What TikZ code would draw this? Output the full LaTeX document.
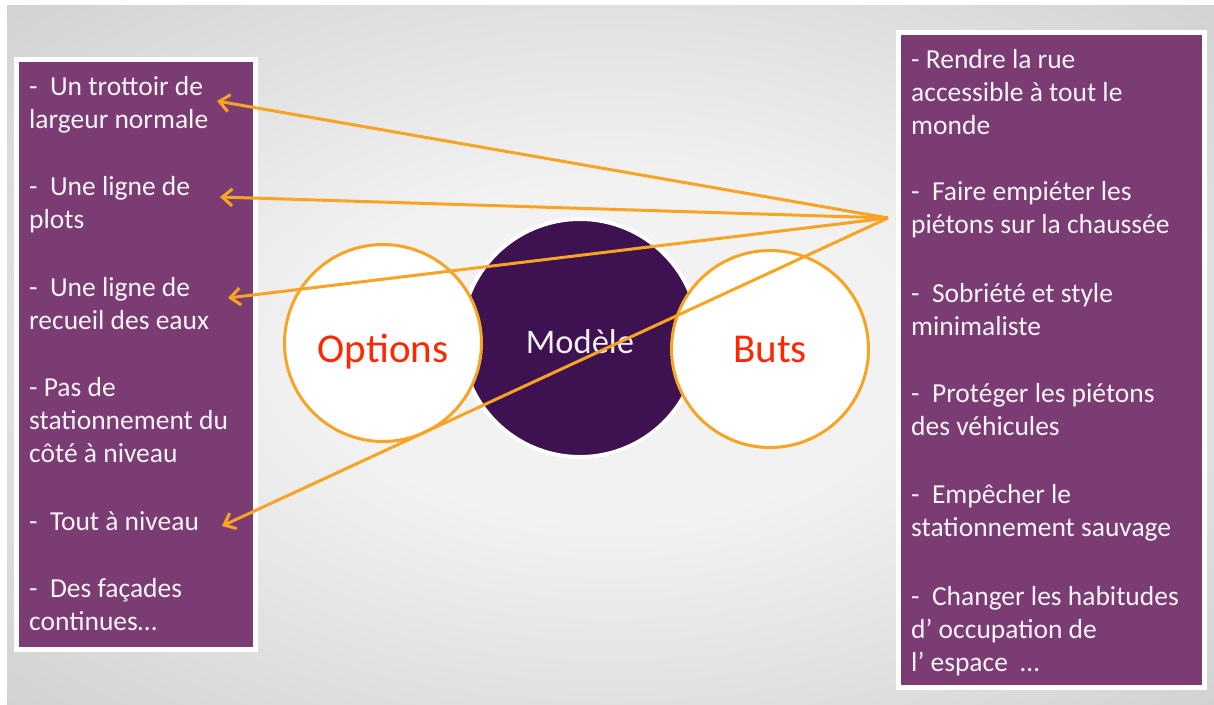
\documentclass[tikz,border=0pt]{standalone}
\usepackage{fontspec}
\setmainfont{Carlito}
\usepackage{tikz}
\usetikzlibrary{positioning,arrows.meta,shadows}

\definecolor{boxpurple}{RGB}{123,60,116}
\definecolor{darkplum}{RGB}{62,17,80}
\definecolor{linkorange}{RGB}{247,164,36}
\definecolor{labelred}{RGB}{255,38,0}
\definecolor{bgcentre}{RGB}{242,242,242}
\definecolor{bgedge}{RGB}{190,190,190}
\pgfdeclareradialshading{slideglow}{\pgfpoint{0bp}{0bp}}{color(0bp)=(bgcentre); color(12bp)=(bgcentre); color(50bp)=(bgedge)}

\begin{document}
\begin{tikzpicture}[x=1pt,y=-1pt,
  listbox/.style={draw=white, line width=5pt, fill=boxpurple, drop shadow={shadow xshift=1.5pt, shadow yshift=-2pt, opacity=.3}},
  item/.style={anchor=north west, inner sep=0pt, align=left, text=white!94!boxpurple, font=\fontsize{27.5}{33}\selectfont},
  ring/.style={circle, draw=linkorange, line width=3pt, fill=white, minimum size=197pt, inner sep=0pt},
  biglabel/.style={anchor=base, inner sep=0pt, text=labelred, font=\fontsize{41}{49}\selectfont},
  link/.style={draw=linkorange, line width=3pt, -{Straight Barb[length=10pt,width=17pt]}}
]
% slide background
\path[use as bounding box, fill=white] (0,0) rectangle (1214,704);
\shade[shading=slideglow] (7,5) rectangle (1214,704);

% the two lists
\draw[listbox] (16.5,59.5) rectangle (255.5,649.5);
\draw[listbox] (898.5,32.5) rectangle (1204.5,687.5);

\node[item] (opt1) at (29,71.9) {\strut-~~Un trottoir de\\largeur normale};
\node[item] (opt2) at (29,172.4) {\strut-~~Une ligne de\\plots};
\node[item] (opt3) at (29,272.9) {\strut-~~Une ligne de\\recueil des eaux};
\node[item] (opt4) at (29,373.4) {\strut- Pas de\\stationnement du\\côté à niveau};
\node[item] (opt5) at (29,506.9) {\strut-~~Tout à niveau};
\node[item] (opt6) at (29,574.4) {\strut-~~Des façades\\continues…};

\node[item] (goal1) at (911,44.9) {\strut- Rendre la rue\\accessible à tout le\\monde};
\node[item] (goal2) at (911,177.3) {\strut-~~Faire empiéter les\\piétons sur la chaussée};
\node[item] (goal3) at (911,278.7) {\strut-~~Sobriété et style\\minimaliste};
\node[item] (goal4) at (911,379.6) {\strut-~~Protéger les piétons\\des véhicules};
\node[item] (goal5) at (911,480.5) {\strut-~~Empêcher le\\stationnement sauvage};
\node[item] (goal6) at (911,581.9) {\strut-~~Changer les habitudes\\d’ occupation de\\l’ espace~~…};

% the three circles
\node[circle, draw=white, line width=4pt, fill=darkplum, minimum size=238pt, inner sep=0pt,
  drop shadow={shadow xshift=1pt, shadow yshift=-2pt, opacity=.2}] (modele) at (580,338) {};
\node[ring] (options) at (383,343) {};
\node[ring] (buts) at (770,349) {};
\node[biglabel] (optlabel) at (383,362) {Options};
\node[biglabel] (butlabel) at (770,362) {Buts};
\node[anchor=base, inner sep=0pt, text=white!94!darkplum, font=\fontsize{34.5}{41}\selectfont] (modlabel) at (580,353) {Modèle};

% links from the goals to the options
\coordinate (hub) at (888,218);
\coordinate (tip1) at (217,101);
\coordinate (tip2) at (220,197);
\coordinate (tip3) at (228,298);
\coordinate (tip4) at (222,526);
\draw[link] (hub) -- (tip1);
\draw[link] (hub) -- (tip2);
\draw[link] (hub) -- (tip3);
\draw[link] (hub) -- (tip4);
\end{tikzpicture}
\end{document}
